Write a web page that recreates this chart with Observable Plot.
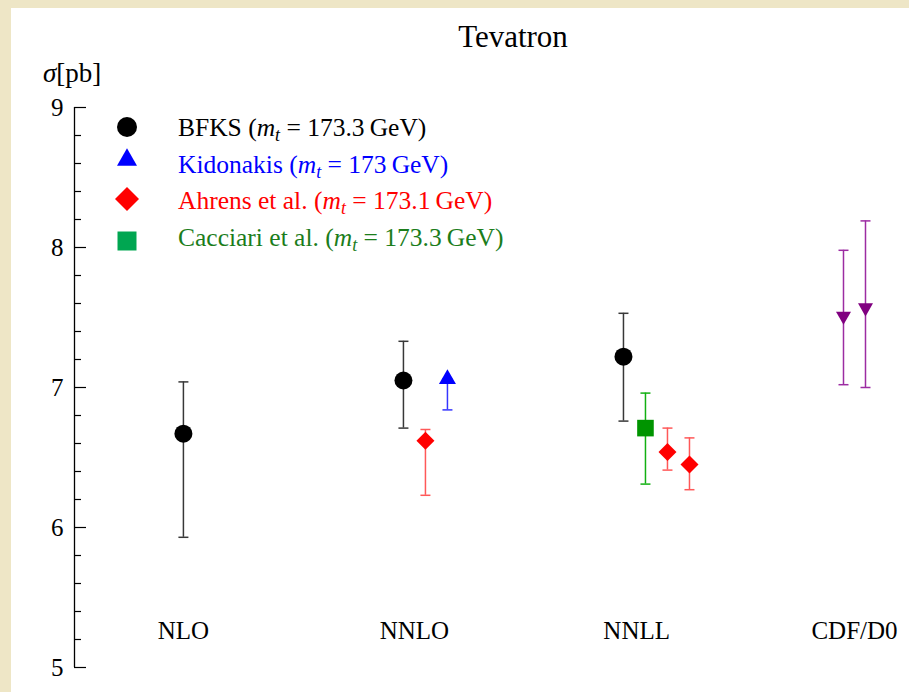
<!DOCTYPE html>
<html>
<head>
<meta charset="utf-8">
<script src="https://cdn.jsdelivr.net/npm/d3@7"></script>
<script src="https://cdn.jsdelivr.net/npm/@observablehq/plot@0.6"></script>
<style>
  html, body { margin: 0; padding: 0; }
  body { width: 909px; height: 692px; overflow: hidden; position: relative;
         background: #eee6c6; font-family: "Liberation Serif", "Times New Roman", serif; }
  #panel { position: absolute; left: 11px; top: 8px; right: 0; bottom: 0; background: #fff; }
  #chart { position: absolute; left: 0; top: 0; }
  .abs { position: absolute; white-space: nowrap; }
  #title { left: 413px; width: 200px; text-align: center; font-size: 31px; line-height: 31px; top: 20.5px; }
  #ylabel { left: 43px; top: 60px; font-size: 27px; line-height: 27px; }
  .leg { font-size: 25.5px; line-height: 25.5px; }
  .leg sub { font-size: 18px; vertical-align: -5px; line-height: 0; }
</style>
</head>
<body>
<div id="panel"></div>
<div id="chart"></div>
<div id="title" class="abs">Tevatron</div>
<div id="ylabel" class="abs"><i>σ</i>[pb]</div>
<div id="legend"></div>
<script>
// ---------- data ----------
const categories = ["NLO", "NNLO", "NNLL", "CDF/D0"];
const categoryX = [1.0, 2.05, 3.06, 4.05];

const majorTicks = [5, 6, 7, 8, 9];
const minorTicks = [5.2, 5.4, 5.6, 5.8, 6.2, 6.4, 6.6, 6.8, 7.2, 7.4, 7.6, 7.8, 8.2, 8.4, 8.6, 8.8];

const bfksX  = [1.0, 2.0, 3.0];
const bfksY  = [6.67, 7.05, 7.22];
const bfksLo = [5.93, 6.71, 6.76];
const bfksHi = [7.04, 7.33, 7.53];

const kidoX  = [2.2];
const kidoY  = [7.06];
const kidoLo = [6.84];
const kidoHi = [7.06];

const ahrensX  = [2.1, 3.2, 3.3];
const ahrensY  = [6.62, 6.54, 6.45];
const ahrensLo = [6.23, 6.41, 6.27];
const ahrensHi = [6.70, 6.71, 6.64];

const cacciariX  = [3.1];
const cacciariY  = [6.71];
const cacciariLo = [6.31];
const cacciariHi = [6.96];

const expX  = [4.0, 4.1];
const expY  = [7.51, 7.57];
const expLo = [7.02, 7.00];
const expHi = [7.98, 8.19];

const legendNames = ["BFKS", "Kidonakis", "Ahrens et al.", "Cacciari et al."];
const legendMass  = ["173.3", "173", "173.1", "173.3"];

// ---------- symbols ----------
const rad = s => Math.sqrt(s / Math.PI);
const triUp   = {draw(c, s) { const r = rad(s), h = 1.75 * r; c.moveTo(0, -2 * h / 3); c.lineTo(r, h / 3); c.lineTo(-r, h / 3); c.closePath(); }};
const triDown = {draw(c, s) { const r = rad(s), h = 1.75 * r; c.moveTo(0, 2 * h / 3); c.lineTo(r, -h / 3); c.lineTo(-r, -h / 3); c.closePath(); }};
const diamond = {draw(c, s) { const r = rad(s); c.moveTo(0, -r); c.lineTo(r, 0); c.lineTo(0, r); c.lineTo(-r, 0); c.closePath(); }};
const square  = {draw(c, s) { const r = rad(s); c.rect(-r, -r, 2 * r, 2 * r); }};
const circle  = {draw(c, s) { const r = rad(s); c.moveTo(r, 0); c.arc(0, 0, r, 0, 2 * Math.PI); }};
const capSym  = {draw(c, s) { const r = rad(s); c.moveTo(-r, 0); c.lineTo(r, 0); }};

// ---------- styles ----------
const styles = [
  {x: bfksX, y: bfksY, lo: bfksLo, hi: bfksHi, fill: "#000000", bar: "#383838", symbol: circle, r: 9},
  {x: kidoX, y: kidoY, lo: kidoLo, hi: kidoHi, fill: "#0000ff", bar: "#3535ff", symbol: triUp, r: 8.5},
  {x: ahrensX, y: ahrensY, lo: ahrensLo, hi: ahrensHi, fill: "#ff0000", bar: "#ff5858", symbol: diamond, r: 9},
  {x: cacciariX, y: cacciariY, lo: cacciariLo, hi: cacciariHi, fill: "#009400", bar: "#12b012", symbol: square, r: 8.3},
  {x: expX, y: expY, lo: expLo, hi: expHi, fill: "#800080", bar: "#9c2ca2", symbol: triDown, r: 7.5}
];
const legendStyle = [
  {color: "#000000", text: "#000000", symbol: circle, r: 10},
  {color: "#0000ff", text: "#0000ff", symbol: triUp, r: 10},
  {color: "#ff0000", text: "#ff0000", symbol: diamond, r: 12},
  {color: "#00a651", text: "#1b7d1b", symbol: square, r: 9.5}
];

const FONT = '"Liberation Serif", "Times New Roman", serif';
const X_DOMAIN = [0.505, 4.30];
const W = 909, H = 692, ML = 74, MR = 0, MT = 107, MB = 25;
const FRAME_W = W - ML - MR;

const marks = [
  Plot.ruleX([X_DOMAIN[0]], {stroke: "#000", strokeWidth: 1.3}),
  Plot.tickY(minorTicks, {y: d => d, stroke: "#000", strokeWidth: 1.2, insetRight: FRAME_W - 7}),
  Plot.tickY(majorTicks, {y: d => d, stroke: "#000", strokeWidth: 1.2, insetRight: FRAME_W - 12}),
  Plot.text(majorTicks, {y: d => d, text: d => String(d), frameAnchor: "left", textAnchor: "end", dx: -11, fontSize: 25, fill: "#000"}),
  Plot.text(categories, {x: (d, i) => categoryX[i], text: d => d, frameAnchor: "bottom", dy: -29, fontSize: 25, fill: "#000"})
];

for (const s of styles) {
  const rows = s.x.map((x, i) => ({x, y: s.y[i], lo: s.lo[i], hi: s.hi[i]}));
  marks.push(
    Plot.ruleX(rows, {x: "x", y1: "lo", y2: "hi", stroke: s.bar, strokeWidth: 1.5}),
    Plot.dot(rows, {x: "x", y: "lo", symbol: capSym, r: 5, stroke: s.bar, strokeWidth: 1.5, fill: "none"}),
    Plot.dot(rows, {x: "x", y: "hi", symbol: capSym, r: 5, stroke: s.bar, strokeWidth: 1.5, fill: "none"}),
    Plot.dot(rows, {x: "x", y: "y", symbol: s.symbol, r: s.r, fill: s.fill, stroke: "none"})
  );
}

const chart = Plot.plot({
  width: W, height: H,
  marginLeft: ML, marginRight: MR, marginTop: MT, marginBottom: MB,
  x: {domain: X_DOMAIN, axis: null},
  y: {domain: [5, 9], axis: null},
  style: {background: "transparent", fontFamily: FONT, color: "#000", overflow: "visible"},
  marks
});
document.getElementById("chart").appendChild(chart);

// ---------- legend (HTML overlay) ----------
const legendSymY = [127, 160, 199, 241];
const legendBase = [136.7, 173, 209, 246.7];
const LEG_FS = 25.5;
const legend = document.getElementById("legend");
legendNames.forEach((name, i) => {
  const st = legendStyle[i];
  const p = d3.path();
  st.symbol.draw(p, Math.PI * st.r * st.r);
  const sz = 30;
  const sym = document.createElement("div");
  sym.className = "abs";
  sym.style.left = (127 - sz / 2) + "px";
  sym.style.top = (legendSymY[i] - sz / 2) + "px";
  sym.innerHTML = `<svg width="${sz}" height="${sz}" viewBox="${-sz/2} ${-sz/2} ${sz} ${sz}"><path d="${p.toString()}" fill="${st.color}"/></svg>`;
  legend.appendChild(sym);
  const t = document.createElement("div");
  t.className = "abs leg";
  t.style.left = "178px";
  t.style.top = (legendBase[i] - 0.8375 * LEG_FS) + "px";
  t.style.color = st.text;
  t.innerHTML = `${name} (<i>m</i><sub><i>t</i></sub> = ${legendMass[i]}&#8201;GeV)`;
  legend.appendChild(t);
});
</script>
</body>
</html>
